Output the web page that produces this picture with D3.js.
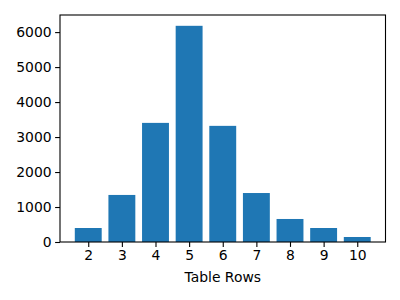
<!DOCTYPE html>
<html>
<head>
<meta charset="utf-8">
<script src="https://cdn.jsdelivr.net/npm/d3@7"></script>
<style>
  body { margin: 0; background: #fff; }
  svg { display: block; }
  text { font-family: "DejaVu Sans", sans-serif; fill: #000; }
</style>
</head>
<body>
<svg id="chart" width="400" height="300"></svg>
<script>
// table row counts and how often each occurs
var rows = [2, 3, 4, 5, 6, 7, 8, 9, 10];
var counts = [400, 1345, 3405, 6180, 3320, 1400, 658, 400, 143];
var yTicks = [0, 1000, 2000, 3000, 4000, 5000, 6000];
var xLabel = "Table Rows";

var margin = {top: 15, right: 14.5, bottom: 58, left: 60};
var width = 400 - margin.left - margin.right;
var height = 300 - margin.top - margin.bottom;
var barWidth = 0.8;

var svg = d3.select('#chart');
var g = svg.append('g')
  .attr('transform', 'translate(' + margin.left + ',' + margin.top + ')');

// matplotlib style 5% margins around the bars
var lo = d3.min(rows) - barWidth / 2, hi = d3.max(rows) + barWidth / 2;
var pad = (hi - lo) * 0.05;
var x = d3.scaleLinear().domain([lo - pad, hi + pad]).range([0, width]);
var y = d3.scaleLinear().domain([0, d3.max(counts) * 1.05]).range([height, 0]);

g.selectAll('rect.bar')
  .data(rows)
  .enter().append('rect')
  .attr('class', 'bar')
  .attr('x', d => x(d - barWidth / 2))
  .attr('width', d => x(d + barWidth / 2) - x(d - barWidth / 2))
  .attr('y', (d, i) => y(counts[i]))
  .attr('height', (d, i) => height - y(counts[i]))
  .attr('fill', '#1f77b4');

var xAxis = g.append('g')
  .attr('transform', 'translate(0,' + height + ')')
  .call(d3.axisBottom(x).tickValues(rows).tickFormat(d3.format('d')).tickSize(4.9).tickPadding(3.5));
var yAxis = g.append('g')
  .call(d3.axisLeft(y).tickValues(yTicks).tickFormat(d3.format('d')).tickSize(4.9).tickPadding(3.5));

[xAxis, yAxis].forEach(function(a) {
  a.select('.domain').remove();
  a.selectAll('.tick line').attr('stroke', '#000').attr('stroke-width', 1.1);
  a.selectAll('.tick text')
    .style('font-size', '13.9px')
    .style('font-family', '"DejaVu Sans", sans-serif')
    .attr('fill', '#000');
});

// frame
g.append('rect')
  .attr('width', width)
  .attr('height', height)
  .attr('fill', 'none')
  .attr('stroke', '#000')
  .attr('stroke-width', 1.1);

g.append('text')
  .attr('x', width / 2)
  .attr('y', height + 40)
  .attr('text-anchor', 'middle')
  .style('font-size', '13.9px')
  .text(xLabel);
</script>
</body>
</html>
